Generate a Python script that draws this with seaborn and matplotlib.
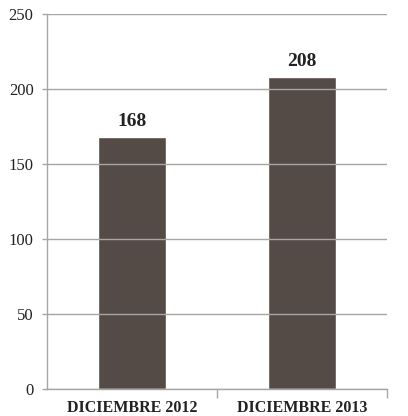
import matplotlib
matplotlib.use("Agg")
import matplotlib.pyplot as plt
import seaborn as sns
import pandas as pd

categories = ["DICIEMBRE 2012", "DICIEMBRE 2013"]
values = [168, 208]
y_ticks = [0, 50, 100, 150, 200, 250]

sns.set_theme(style="white")
plt.rcParams["font.family"] = ["Liberation Serif", "DejaVu Serif"]

df = pd.DataFrame({"cat": categories, "val": values})

fig = plt.figure(figsize=(4.08, 4.16), dpi=100)
ax = fig.add_axes([0.115, 0.065, 0.8335, 0.901])
sns.barplot(data=df, x="cat", y="val", color="#544b47", saturation=1, width=0.4, ax=ax)

ax.set_xlim(-0.5, 1.5)
ax.set_ylim(0, 250)
ax.set_yticks(y_ticks)
ax.set_xlabel("")
ax.set_ylabel("")
ax.yaxis.grid(True, color="#a6a6a6", linewidth=1.0)
ax.set_axisbelow(False)

for s in ["top", "right"]:
    ax.spines[s].set_visible(False)
for s in ["left", "bottom"]:
    ax.spines[s].set_color("#a6a6a6")
    ax.spines[s].set_linewidth(1.0)

ax.tick_params(axis="y", length=3.6, width=1.0, color="#a6a6a6", pad=6, labelsize=12, labelcolor="#222222", left=True)
ax.tick_params(axis="x", which="major", length=0, pad=8, labelsize=11.5, labelcolor="#222222")
ax.set_xticks([0.5, 1.5], minor=True)
ax.tick_params(axis="x", which="minor", length=6.5, width=1.0, color="#a6a6a6", bottom=True)
for lab in ax.get_xticklabels():
    lab.set_fontweight("bold")

for i, v in enumerate(values):
    ax.text(i, v + 5, str(v), ha="center", va="bottom", fontsize=14, fontweight="bold", color="#222222")

fig.savefig("out.png", dpi=100)
